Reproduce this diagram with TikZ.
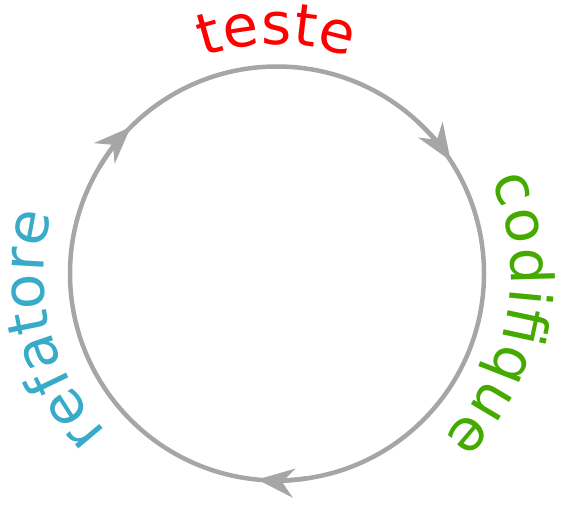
\documentclass[tikz,border=0pt]{standalone}
\usepackage{fontspec}
\setmainfont{DejaVu Sans}
\usetikzlibrary{arrows.meta}
\definecolor{cgray}{HTML}{A6A6A6}
\definecolor{cred}{HTML}{FF0000}
\definecolor{cgreen}{HTML}{44AA00}
\definecolor{cblue}{HTML}{37ABC8}
\newcommand\tfont{\fontsize{58}{66}\selectfont}
\def\fsz{58}
\newcommand\arctext[6]{%
  % #1 centre angle, #2 baseline radius, #3 extra spacing, #4 colour, #5 name, #6 letter/width(em) list
  \xdef\acctot{0}%
  \foreach \ch/\w in {#6}{\pgfmathsetmacro\tmpa{\acctot+\w*\fsz+#3}\xdef\acctot{\tmpa}}%
  \pgfmathsetmacro\totlen{\acctot-#3}%
  \xdef\accpos{0}%
  \foreach \ch/\w [count=\i] in {#6}{%
    \pgfmathsetmacro\cpos{\accpos+\w*\fsz/2}%
    \pgfmathsetmacro\angl{#1+deg((\totlen/2-\cpos)/#2)}%
    \node[letter, text=#4, rotate=\angl-90] (#5\i) at (\angl:#2) {\ch};
    \pgfmathsetmacro\tmpa{\accpos+\w*\fsz+#3}\xdef\accpos{\tmpa}}%
}
\begin{document}
\begin{tikzpicture}[x=1pt,y=1pt,
  letter/.style={anchor=base, inner sep=0pt, font=\tfont},
  ringline/.style={draw=cgray, line width=4.5pt},
  cyclearrow/.style={cgray, line width=4.5pt, -{Stealth[length=37pt,width=29pt,inset=12pt]}}]
\useasboundingbox (-277,-243.5) rectangle (284,273.5);
\node[circle, ringline, minimum size=414pt, inner sep=0pt] (ring) at (0,0) {};
\coordinate (a1s) at (47:207);
\coordinate (a2s) at (278.5:207);
\coordinate (a3s) at (149:207);
\draw[cyclearrow] (a1s) arc[start angle=47, end angle=33, radius=207];
\draw[cyclearrow] (a2s) arc[start angle=278.5, end angle=264.5, radius=207];
\draw[cyclearrow] (a3s) arc[start angle=149, end angle=135, radius=207];
\arctext{90}{229}{0.6}{cred}{te}{t/0.392,e/0.615,s/0.521,t/0.392,e/0.615}
\arctext{-10.5}{234}{2.0}{cgreen}{co}{c/0.550,o/0.612,d/0.635,i/0.278,ﬁ/0.600,q/0.635,u/0.634,e/0.615}
\arctext{194}{233}{0.3}{cblue}{re}{r/0.411,e/0.615,f/0.352,a/0.613,t/0.392,o/0.612,r/0.411,e/0.615}
\end{tikzpicture}
\end{document}
